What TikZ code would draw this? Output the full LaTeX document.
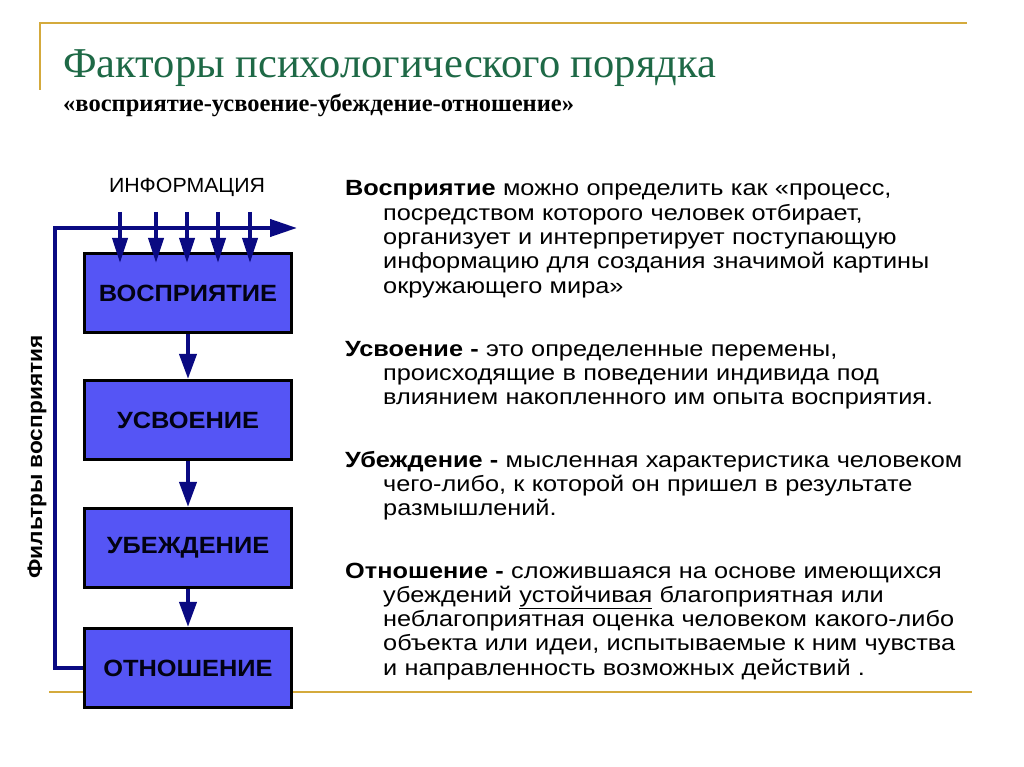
\documentclass[tikz,border=0pt]{standalone}
\usepackage{fontspec}
\setmainfont{Liberation Sans}
\newfontfamily\titlefont{Liberation Serif}
\newfontfamily\bodyfont[FakeStretch=1.15]{Liberation Sans}
\newfontfamily\boxfont[FakeStretch=1.08]{Liberation Sans}
\newfontfamily\labelfont[FakeStretch=1.04]{Liberation Sans}
\usetikzlibrary{arrows.meta}
\definecolor{gold}{RGB}{212,170,60}
\definecolor{titlegreen}{RGB}{30,105,70}
\definecolor{boxblue}{RGB}{85,85,245}
\definecolor{navy}{RGB}{10,10,130}
\newcommand{\ind}{\hspace*{38pt}}

\begin{document}
\begin{tikzpicture}[x=1pt,y=-1pt,
  stage/.style={draw=black,line width=3.2pt,fill=boxblue,minimum width=207pt,minimum height=79pt,
    font=\boxfont\fontsize{23.5}{27}\selectfont\bfseries,text=black!85!navy},
  flow/.style={navy,line width=4pt,-{Triangle[length=25pt,width=17pt]}},
  infoflow/.style={navy,line width=4pt,-{Triangle[length=25pt,width=15pt]}},
  para/.style={anchor=base west,text width=670pt,align=left,inner sep=0pt,font=\bodyfont\fontsize{22}{24.3}\selectfont},
  rule/.style={gold,line width=2.5pt}]
\useasboundingbox (0,0) rectangle (1024,767);
\fill[white] (0,0) rectangle (1024,767);

% gold rules
\draw[rule] (40,90) |- (967,23);
\draw[rule] (49,692) -- (972,692);

% heading
\node[anchor=base west,inner sep=0pt,text=titlegreen,font=\titlefont\fontsize{42.5}{46}\selectfont] (title) at (63,78) {Факторы психологического порядка};
\node[anchor=base west,inner sep=0pt,font=\titlefont\bfseries\fontsize{24.5}{28}\selectfont] (subtitle) at (63,112) {«восприятие-усвоение-убеждение-отношение»};

% stages
\node[stage] (vospr) at (188,293) {ВОСПРИЯТИЕ};
\node[stage] (usv) at (188,420) {УСВОЕНИЕ};
\node[stage] (ubezh) at (188,548) {УБЕЖДЕНИЕ};
\node[stage] (otn) at (188,668) {ОТНОШЕНИЕ};

\draw[flow] (vospr) -- (usv);
\draw[flow] (usv) -- (ubezh);
\draw[flow] (ubezh) -- (otn);

% feedback loop
\coordinate (fb) at (55,228);
\coordinate (loopend) at (297,228);
\draw[flow,-{Triangle[length=27pt,width=17pt]}] (otn.west) -| (fb) -- (loopend);

\node[font=\labelfont\fontsize{20.5}{24}\selectfont] (info) at (187,187) {ИНФОРМАЦИЯ};
\foreach \x [count=\i] in {120,156,187,218,250}
{\coordinate (in\i) at (\x,212);
 \draw[infoflow,shorten >=-11pt] (in\i) -- (in\i |- vospr.north);}

\node[rotate=90,font=\boxfont\bfseries\fontsize{21}{24}\selectfont] (filt) at (37,457) {Фильтры восприятия};

% definitions
\node[para] (defvospr) at (345,196) {\textbf{Восприятие} можно определить как «процесс,\\
\ind посредством которого человек отбирает,\\
\ind организует и интерпретирует поступающую\\
\ind информацию для создания значимой картины\\
\ind окружающего мира»};
\node[para] (defusv) at (345,356) {\textbf{Усвоение -} это определенные перемены,\\
\ind происходящие в поведении индивида под\\
\ind влиянием накопленного им опыта восприятия.};
\node[para] (defubezh) at (345,467) {\textbf{Убеждение -} мысленная характеристика человеком\\
\ind чего-либо, к которой он пришел в результате\\
\ind размышлений.};
\node[para] (defotn) at (345,578) {\textbf{Отношение -} сложившаяся на основе имеющихся\\
\ind убеждений \underline{устойчивая} благоприятная или\\
\ind неблагоприятная оценка человеком какого-либо\\
\ind объекта или идеи, испытываемые к ним чувства\\
\ind и направленность возможных действий .};
\end{tikzpicture}
\end{document}
